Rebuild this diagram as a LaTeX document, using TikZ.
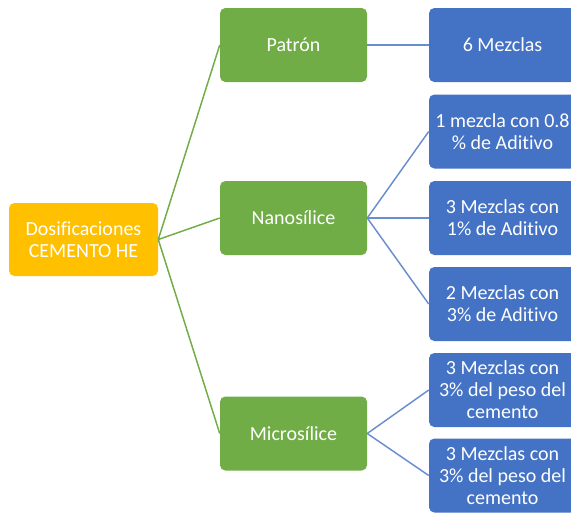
\documentclass[tikz,border=0pt]{standalone}
\usepackage{fontspec}
\setmainfont{Carlito}[Ligatures=NoCommon]
\definecolor{amarillo}{HTML}{FFC000}
\definecolor{verde}{HTML}{70AD47}
\definecolor{azul}{HTML}{4472C4}
\begin{document}
\begin{tikzpicture}[x=0.75pt,y=-0.75pt,
    caja/.style={rounded corners=4pt, minimum width=110.25pt, minimum height=55.5pt,
        inner sep=0pt, align=center, text=white, font=\fontsize{15}{16.5}\selectfont},
    raiz/.style={caja, fill=amarillo, minimum width=111.75pt, minimum height=54.75pt},
    rama/.style={caja, fill=verde},
    hoja/.style={caja, fill=azul},
    lineaverde/.style={verde, line width=1.1pt},
    lineaazul/.style={azul!80, line width=1.1pt}]
        \useasboundingbox(0,0)rectangle(571,512);
        \coordinate(R)at(83.5,239.5);
        \coordinate(P)at(293.5,45);
        \coordinate(N)at(293.5,218);
        \coordinate(M)at(293.5,433.5);
        \node[raiz](dosif)at(R){Dosificaciones\\CEMENTO HE};
        \node[rama](patron)at(P){Patrón};
        \node[rama](nano)at(N){Nanosílice};
        \node[rama](micro)at(M){Microsílice};
        \node[hoja](seis)at(502.5,45){6 Mezclas};
        \node[hoja](nanoA)at(502.5,131.5){1 mezcla con 0.8\\\% de Aditivo};
        \node[hoja](nanoB)at(502.5,218){3 Mezclas con\\1\% de Aditivo};
        \node[hoja](nanoC)at(502.5,304){2 Mezclas con\\3\% de Aditivo};
        \node[hoja](microA)at(502.5,390){3 Mezclas con\\3\% del peso del\\cemento};
        \node[hoja](microB)at(502.5,475.5){3 Mezclas con\\3\% del peso del\\cemento};
        \draw[lineaverde](dosif.east)--(patron.west);
        \draw[lineaverde](dosif.east)--(nano.west);
        \draw[lineaverde](dosif.east)--(micro.west);
        \draw[lineaazul](patron.east)--(seis.west);
        \draw[lineaazul](nano.east)--(nanoA.west);
        \draw[lineaazul](nano.east)--(nanoB.west);
        \draw[lineaazul](nano.east)--(nanoC.west);
        \draw[lineaazul](micro.east)--(microA.west);
        \draw[lineaazul](micro.east)--(microB.west);
    \end{tikzpicture}
\end{document}
